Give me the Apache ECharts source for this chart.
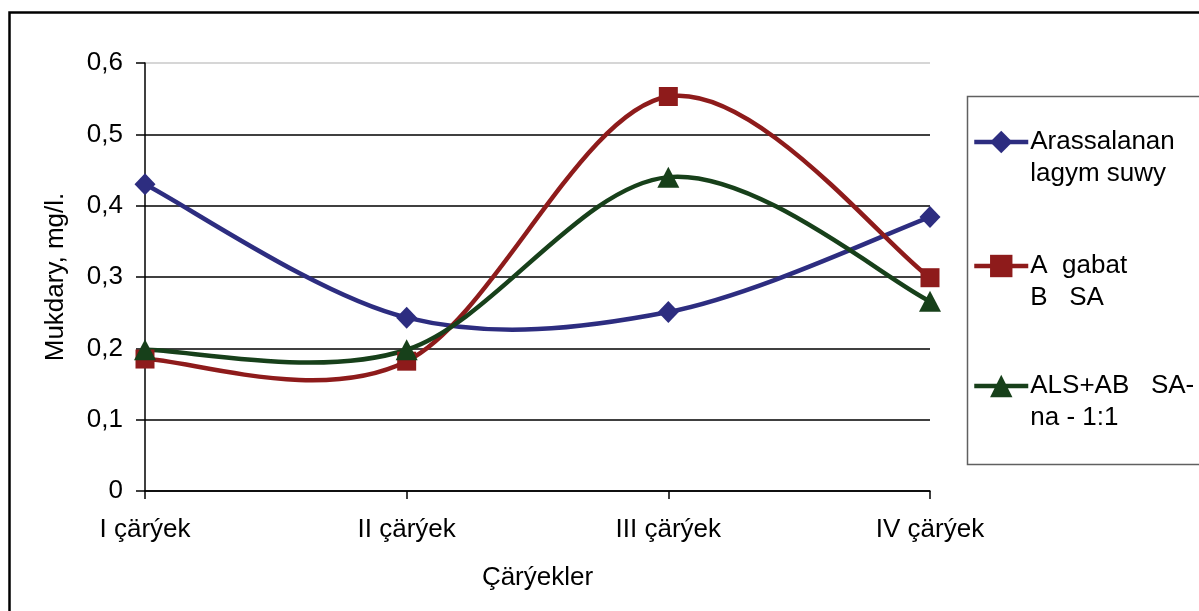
<!DOCTYPE html>
<html>
<head>
<meta charset="utf-8">
<script src="https://cdn.jsdelivr.net/npm/echarts@6/dist/echarts.min.js"></script>
<style>html,body{margin:0;padding:0;background:#fff}#c{width:1199px;height:611px}</style>
</head>
<body>
<div id="c"></div>
<script>
const categories = ['I çärýek', 'II çärýek', 'III çärýek', 'IV çärýek'];
const seriesNames = ['Arassalanan lagym suwy', 'A gabat B SA', 'ALS+AB SA-na - 1:1'];
const legendTexts = ['Arassalanan\nlagym suwy', 'A  gabat\nB   SA', 'ALS+AB   SA-\nna - 1:1'];
const blueValues = [0.43, 0.243, 0.251, 0.384];
const redValues = [0.185, 0.182, 0.553, 0.299];
const greenValues = [0.198, 0.198, 0.440, 0.266];
const yTicks = [0, 0.1, 0.2, 0.3, 0.4, 0.5, 0.6];

const FONT = "'Liberation Sans', Arial, sans-serif";
const FS = 26;
const colors = ['#2D2D80', '#8E1B1B', '#17401A'];
const symbols = ['diamond', 'rect', 'triangle'];
const symbolSizes = [[21, 22], 19, [22, 21]];
const dataArr = [blueValues, redValues, greenValues];
const legendTops = [94, 218, 338];
const LW = 4.5;

const chart = echarts.init(document.getElementById('c'), null, {renderer: 'canvas'});

const legends = seriesNames.map((n, i) => ({
  data: [n],
  orient: 'vertical',
  left: 972,
  top: legendTops[i],
  itemWidth: 54,
  itemHeight: 28,
  itemGap: 0,
  padding: 0,
  selectedMode: false,
  formatter: () => '\n' + legendTexts[i],
  lineStyle: {color: colors[i], width: LW, opacity: 1},
  itemStyle: {color: colors[i], opacity: 1},
  textStyle: {fontFamily: FONT, fontSize: FS, lineHeight: 32, color: '#000', padding: [0, 0, 0, -3]}
}));

// Excel-style (Catmull-Rom, 1/6 tension) smooth curve drawn through the axis scales
function curveSeries(i) {
  const arr = dataArr[i];
  const n = arr.length;
  return {
    name: '_curve' + i,
    type: 'custom',
    data: arr.map((v, j) => [j, v]),
    encode: {x: 0, y: 1},
    clip: false,
    silent: true,
    z: 2,
    renderItem: (params, api) => {
      const k = params.dataIndex;
      if (k >= n - 1) return null;
      const p = j => api.coord([Math.max(0, Math.min(n - 1, j)), arr[Math.max(0, Math.min(n - 1, j))]]);
      const P0 = p(k - 1), P1 = p(k), P2 = p(k + 1), P3 = p(k + 2);
      return {
        type: 'bezierCurve',
        shape: {
          x1: P1[0], y1: P1[1], x2: P2[0], y2: P2[1],
          cpx1: P1[0] + (P2[0] - P0[0]) / 6, cpy1: P1[1] + (P2[1] - P0[1]) / 6,
          cpx2: P2[0] - (P3[0] - P1[0]) / 6, cpy2: P2[1] - (P3[1] - P1[1]) / 6
        },
        style: {stroke: colors[i], lineWidth: LW, fill: null, lineCap: 'round'}
      };
    }
  };
}

const markerSeries = seriesNames.map((n, i) => ({
  name: n,
  type: 'line',
  data: dataArr[i],
  smooth: false,
  symbol: symbols[i],
  symbolSize: symbolSizes[i],
  showAllSymbol: true,
  lineStyle: {color: colors[i], width: LW, opacity: 0},
  itemStyle: {color: colors[i], borderWidth: 0},
  z: 5 + i
}));

chart.setOption({
  animation: false,
  backgroundColor: '#fff',
  textStyle: {fontFamily: FONT},
  grid: {left: 145, right: 269, top: 63, bottom: 120, containLabel: false},
  legend: legends,
  graphic: [
    {type: 'rect', shape: {x: 9.5, y: 12.5, width: 1300, height: 700}, style: {fill: 'none', stroke: '#000', lineWidth: 2.5}, silent: true},
    {type: 'rect', shape: {x: 967.5, y: 96.5, width: 300, height: 368}, style: {fill: 'none', stroke: '#606060', lineWidth: 1.5}, silent: true, z: -1}
  ],
  xAxis: {
    type: 'category',
    data: categories,
    boundaryGap: false,
    name: 'Çärýekler',
    nameLocation: 'middle',
    nameGap: 74,
    nameTextStyle: {fontFamily: FONT, fontSize: FS, color: '#000'},
    axisLine: {lineStyle: {color: '#000', width: 1.5}},
    axisTick: {show: true, length: 8, alignWithLabel: true, lineStyle: {color: '#000', width: 1.5}},
    axisLabel: {fontFamily: FONT, fontSize: FS, color: '#000', margin: 26},
    splitLine: {show: false}
  },
  yAxis: {
    type: 'value',
    min: 0,
    max: 0.6,
    interval: 0.1,
    name: 'Mukdary, mg/l.',
    nameLocation: 'middle',
    nameGap: 76,
    nameRotate: 90,
    nameTextStyle: {fontFamily: FONT, fontSize: FS, color: '#000'},
    axisLine: {show: true, lineStyle: {color: '#000', width: 1.5}},
    axisTick: {show: true, length: 9, lineStyle: {color: '#000', width: 1.5}},
    axisLabel: {
      fontFamily: FONT, fontSize: FS, color: '#000', margin: 22,
      formatter: v => {
        const t = yTicks.find(x => Math.abs(x - v) < 1e-9);
        const val = t === undefined ? v : t;
        return val === 0 ? '0' : val.toFixed(1).replace('.', ',');
      }
    },
    splitLine: {show: true, lineStyle: {color: ['#000', '#000', '#000', '#000', '#000', '#000', '#c8c8c8'], width: 1.5}}
  },
  series: [curveSeries(0), curveSeries(1), curveSeries(2)].concat(markerSeries)
});
</script>
</body>
</html>
